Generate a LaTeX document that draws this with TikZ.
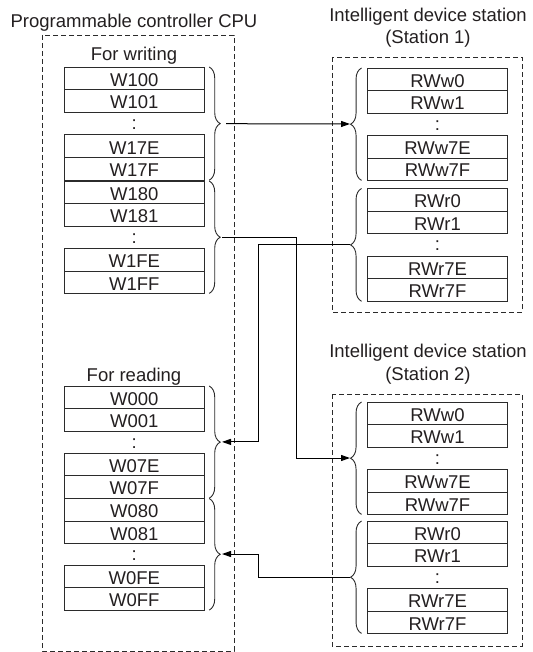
\documentclass[tikz,border=0pt]{standalone}
\usepackage{fontspec}
\setmainfont{Liberation Sans}
\usetikzlibrary{decorations.pathreplacing,arrows.meta,calc}
\definecolor{txt}{HTML}{231F20}
\definecolor{linec}{HTML}{2B2B2B}
\begin{document}
\begin{tikzpicture}[x=1pt,y=-1pt,
  every node/.style={font=\fontsize{18.5}{20}\selectfont, text=txt},
  cell/.style={minimum width=139.5pt, minimum height=22.4pt, inner sep=0pt, text height=16pt, text depth=0pt, anchor=north},
  gapcell/.style={minimum width=139.5pt, minimum height=22.4pt, inner sep=0pt, text height=12pt, text depth=0pt, anchor=north},
  box/.style={draw=linec, line width=0.9pt},
  frame/.style={draw=linec, dash pattern=on 5pt off 3pt, line width=0.9pt},
  brc/.style={decorate, decoration={brace, amplitude=11pt}, draw=linec, line width=0.9pt},
  conn/.style={draw=black, line width=1pt},
  arr/.style={conn, -{Triangle[length=9pt,width=6pt]}}
]
\useasboundingbox (0,0) rectangle (532,652);

% dashed frames
\draw[frame] (42,35) rectangle (234,651);
\draw[frame] (332,57) rectangle (522,312);
\draw[frame] (332,394) rectangle (522,646);

% titles
\node[anchor=base] (cpu) at (134,28) {Programmable controller CPU};
\node[anchor=base] (fw) at (134,61) {For writing};
\node[anchor=base] (fr) at (134,381) {For reading};
\node[anchor=base] (s1a) at (428,22) {Intelligent device station};
\node[anchor=base] (s1b) at (428,44) {(Station 1)};
\node[anchor=base] (s2a) at (428,357) {Intelligent device station};
\node[anchor=base] (s2b) at (428,380) {(Station 2)};

% CPU writing area
\node[cell] (w100) at (134.25,67) {W100};
\node[cell] (w101) at (134.25,89.6) {W101};
\node[gapcell] (wd1) at (134.25,112.2) {:};
\node[cell] (w17e) at (134.25,134.8) {W17E};
\node[cell] (w17f) at (134.25,157.4) {W17F};
\node[cell] (w180) at (134.25,181) {W180};
\node[cell] (w181) at (134.25,203.4) {W181};
\node[gapcell] (wd2) at (134.25,225.8) {:};
\node[cell] (w1fe) at (134.25,248.2) {W1FE};
\node[cell] (w1ff) at (134.25,270.6) {W1FF};

% CPU reading area
\node[cell] (w000) at (134.25,386) {W000};
\node[cell] (w001) at (134.25,408.35) {W001};
\node[gapcell] (rd1) at (134.25,430.7) {:};
\node[cell] (w07e) at (134.25,453.05) {W07E};
\node[cell] (w07f) at (134.25,475.4) {W07F};
\node[cell] (w080) at (134.25,498.5) {W080};
\node[cell] (w081) at (134.25,520.7) {W081};
\node[gapcell] (rd2) at (134.25,542.9) {:};
\node[cell] (w0fe) at (134.25,565.1) {W0FE};
\node[cell] (w0ff) at (134.25,587.3) {W0FF};

% Station 1
\node[cell] (aww0) at (437.5,68) {RWw0};
\node[cell] (aww1) at (437.5,90.4) {RWw1};
\node[gapcell] (awd) at (437.5,112.8) {:};
\node[cell] (aww7e) at (437.5,135.2) {RWw7E};
\node[cell] (aww7f) at (437.5,157.6) {RWw7F};
\node[cell] (awr0) at (437.5,188.5) {RWr0};
\node[cell] (awr1) at (437.5,211) {RWr1};
\node[gapcell] (ard) at (437.5,233.5) {:};
\node[cell] (awr7e) at (437.5,256) {RWr7E};
\node[cell] (awr7f) at (437.5,278.5) {RWr7F};

% Station 2
\node[cell] (bww0) at (437.5,402) {RWw0};
\node[cell] (bww1) at (437.5,424.4) {RWw1};
\node[gapcell] (bwd) at (437.5,446.8) {:};
\node[cell] (bww7e) at (437.5,469.2) {RWw7E};
\node[cell] (bww7f) at (437.5,491.6) {RWw7F};
\node[cell] (bwr0) at (437.5,521) {RWr0};
\node[cell] (bwr1) at (437.5,543.4) {RWr1};
\node[gapcell] (brd) at (437.5,565.8) {:};
\node[cell] (bwr7e) at (437.5,588.2) {RWr7E};
\node[cell] (bwr7f) at (437.5,610.6) {RWr7F};

% cell outlines (pairs)
\foreach \a/\b in {w100/w101, w17e/w17f, w180/w181, w1fe/w1ff,
                   w000/w001, w07e/w07f, w080/w081, w0fe/w0ff,
                   aww0/aww1, aww7e/aww7f, awr0/awr1, awr7e/awr7f,
                   bww0/bww1, bww7e/bww7f, bwr0/bwr1, bwr7e/bwr7f}
  \draw[box] (\a.north west) rectangle (\b.south east) (\a.south west) -- (\a.south east);

% braces (CPU side, pointing right)
\draw[brc] ([xshift=5pt]w100.north east) -- ([xshift=5pt]w17f.south east);
\draw[brc] ([xshift=5pt]w180.north east) -- ([xshift=5pt]w1ff.south east);
\draw[brc] ([xshift=5pt]w000.north east) -- ([xshift=5pt]w07f.south east);
\draw[brc] ([xshift=5pt]w080.north east) -- ([xshift=5pt]w0ff.south east);
% braces (station side, pointing left)
\draw[brc] ([xshift=-6pt]aww7f.south west) -- ([xshift=-6pt]aww0.north west);
\draw[brc] ([xshift=-6pt]awr7f.south west) -- ([xshift=-6pt]awr0.north west);
\draw[brc] ([xshift=-6pt]bww7f.south west) -- ([xshift=-6pt]bww0.north west);
\draw[brc] ([xshift=-6pt]bwr7f.south west) -- ([xshift=-6pt]bwr0.north west);

% brace tips
\coordinate (tW1) at (222,123.7);
\coordinate (tW2) at (222,237);
\coordinate (tR1) at (222,441.9);
\coordinate (tR2) at (222,554);
\coordinate (tA1) at (350,124);
\coordinate (tA2) at (350,244.8);
\coordinate (tB1) at (350,458);
\coordinate (tB2) at (350,577);

% connectors
\draw[arr] ([xshift=4pt]tW1) -- (tA1);
\draw[arr] (tW2) -- ++(74,0) |- (tB1);
\draw[arr] (tA2) -- ++(-92,0) |- (tR1);
\draw[arr] (tB2) -- ++(-92,0) |- (tR2);
\end{tikzpicture}
\end{document}
